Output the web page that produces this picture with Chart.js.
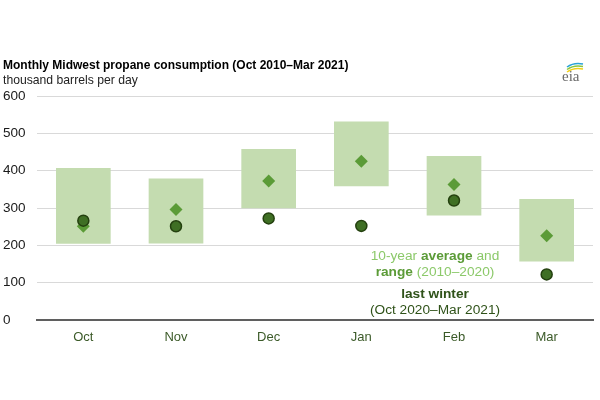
<!DOCTYPE html>
<html><head><meta charset="utf-8">
<script src="https://cdn.jsdelivr.net/npm/chart.js@4/dist/chart.umd.min.js"></script>
<style>html,body{margin:0;padding:0;background:#fff}#wrap{width:600px;height:400px}</style>
</head><body><div id="wrap"><canvas id="c" width="600" height="400"></canvas></div>
<script>
const months = ["Oct","Nov","Dec","Jan","Feb","Mar"];
const rangeLow = [204,205,299,358,280,157];
const rangeHigh = [407,379,458,532,439,324];
const avg10yr = [251,296,372,425,363,226];
const lastWinter = [266,251,272,252,320,122];
const yTicks = [0,100,200,300,400,500,600];
const title = "Monthly Midwest propane consumption (Oct 2010\u2013Mar 2021)";
const subtitle = "thousand barrels per day";

const FONT = "'Liberation Sans', Arial, sans-serif";

const textPlugin = {
  id: 'texts',
  afterDraw(chart) {
    const ctx = chart.ctx;
    ctx.save();
    ctx.textBaseline = 'alphabetic';
    ctx.fillStyle = '#000';
    ctx.font = 'bold 12px ' + FONT;
    ctx.textAlign = 'left';
    ctx.fillText(title, 3, 69);
    ctx.font = '12.2px ' + FONT;
    ctx.fillStyle = '#222';
    ctx.fillText(subtitle, 3, 84);

    function mixed(parts, cx, y) {
      const fs = '13.7px ';
      let w = 0;
      parts.forEach(p => { ctx.font = (p.b ? 'bold ' : '') + fs + FONT; p.w = ctx.measureText(p.t).width; w += p.w; });
      let x = cx - w / 2;
      ctx.textAlign = 'left';
      parts.forEach(p => { ctx.font = (p.b ? 'bold ' : '') + fs + FONT; ctx.fillStyle = p.c; ctx.fillText(p.t, x, y); x += p.w; });
    }
    const light = '#8cc96a', mid = '#5b9b37', dark = '#2f5219';
    mixed([{t:'10-year ',c:light},{t:'average',c:mid,b:true},{t:' and',c:light}], 435, 260);
    mixed([{t:'range',c:mid,b:true},{t:' (2010\u20132020)',c:light}], 435, 276);
    mixed([{t:'last winter',c:dark,b:true}], 435, 298);
    mixed([{t:'(Oct 2020\u2013Mar 2021)',c:dark}], 435, 314);

    // eia logo
    ctx.font = '15px "Liberation Serif", "DejaVu Serif", serif';
    ctx.fillStyle = '#6a6a6a';
    ctx.textAlign = 'left';
    ctx.fillText('eia', 562, 81);
    ctx.lineWidth = 1.5;
    const arcs = [['#f2d21b',70],['#8cc63f',67.5],['#2aa3d8',65]];
    arcs.forEach(([c, y]) => {
      ctx.strokeStyle = c;
      ctx.beginPath();
      ctx.moveTo(567, y + 2);
      ctx.quadraticCurveTo(574, y - 3, 583, y - 1);
      ctx.stroke();
    });
    ctx.restore();
  }
};

new Chart(document.getElementById('c'), {
  data: {
    labels: months,
    datasets: [
      { type: 'scatter', label: 'last winter', data: lastWinter.map((v,i)=>({x: months[i], y: v})),
        pointStyle: 'circle', pointRadius: 5.5, backgroundColor: '#3f6f24', borderColor: '#24400f', borderWidth: 1.5, order: 1 },
      { type: 'scatter', label: '10-year average', data: avg10yr.map((v,i)=>({x: months[i], y: v})),
        pointStyle: 'rectRot', pointRadius: 6.5, backgroundColor: '#5b9b37', borderColor: '#5b9b37', borderWidth: 0, order: 2 },
      { type: 'bar', label: 'range', data: rangeLow.map((v,i)=>[v, rangeHigh[i]]),
        backgroundColor: '#c4dcb0', borderWidth: 0, categoryPercentage: 1, barPercentage: 0.59, order: 3 }
    ]
  },
  options: {
    responsive: false, animation: false,
    layout: { padding: { left: 3, right: 5, top: 96, bottom: 0 } },
    plugins: { legend: { display: false }, tooltip: { enabled: false }, title: { display: false } },
    scales: {
      x: {
        type: 'category', labels: months, offset: true,
        grid: { display: false, drawTicks: false },
        border: { display: true, color: '#5f5f5f', width: 2 },
        ticks: { color: '#3b5a28', font: { family: FONT, size: 13 }, padding: 10 },
        afterFit(s) { s.height = 80; }
      },
      y: {
        min: 0, max: 600,
        afterBuildTicks(s) { s.ticks = yTicks.map(v => ({ value: v })); },
        grid: { color: '#d9d9d9', lineWidth: 1, drawTicks: false },
        border: { display: false },
        ticks: { color: '#1a1a1a', font: { family: FONT, size: 13.5 }, crossAlign: 'far', padding: 0 },
        afterFit(s) { s.width = 34; }
      }
    }
  },
  plugins: [textPlugin]
});
</script>
</body></html>
